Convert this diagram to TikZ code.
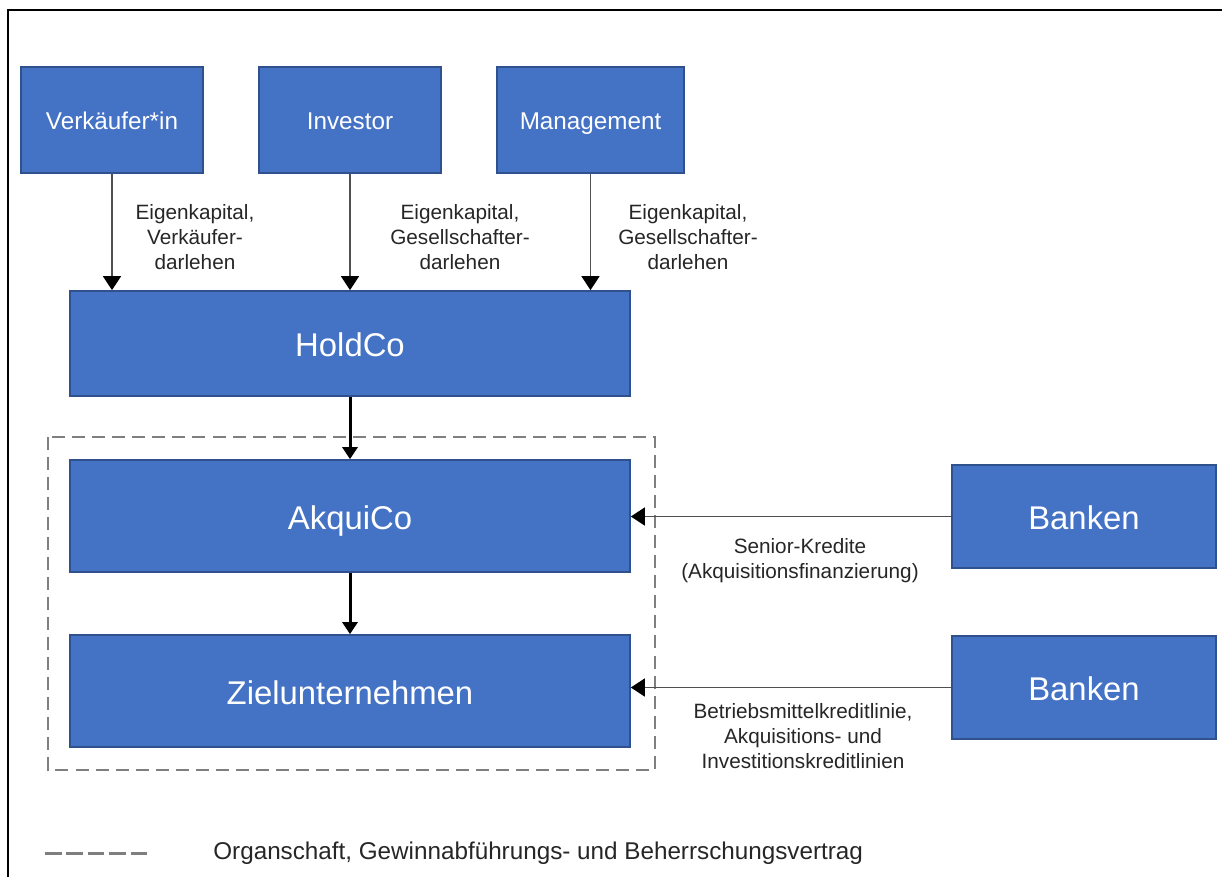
\documentclass[tikz,border=0pt]{standalone}
\usepackage{fontspec}
\setmainfont{Liberation Sans}
\usetikzlibrary{arrows.meta}

\definecolor{boxblue}{HTML}{4472C4}
\definecolor{boxline}{HTML}{2F528F}
\definecolor{labeltext}{HTML}{262626}
\definecolor{flowgray}{HTML}{505050}
\definecolor{dashgray}{HTML}{7F7F7F}

\begin{document}
\begin{tikzpicture}[x=0.02cm,y=-0.02cm,
    box/.style={draw=boxline,line width=1pt,fill=boxblue,text=white,inner sep=0pt,align=center,text depth=0pt},
    party/.style={box,minimum height=2.12cm,text height=11pt,font=\fontsize{13.8}{16}\selectfont},
    entity/.style={box,minimum width=11.2cm,text height=15.1pt,font=\fontsize{18.7}{22}\selectfont},
    bank/.style={box,minimum width=5.28cm,minimum height=2.06cm,text height=15.1pt,font=\fontsize{18.7}{22}\selectfont},
    flowlabel/.style={text=labeltext,align=center,inner sep=0pt,font=\fontsize{11.8}{14.2}\selectfont},
    flow/.style={draw=flowgray,line width=0.85pt,-{Triangle[length=0.28cm,width=0.36cm,color=black]}},
    chain/.style={draw=black,line width=1.7pt,-{Triangle[length=0.24cm,width=0.30cm]}},
    organ/.style={draw=dashgray,line width=1.1pt,dash pattern=on 7.4pt off 4pt}]

% Frame and fixed page size.
\useasboundingbox (0,0) rectangle (1222,877);
\draw[line width=1.6pt] (8,877) -- (8,10) -- (1222,10);

% Holding structure.
\node[entity,minimum height=2.10cm] (holdco) at (350,343.5) {HoldCo};
\node[entity,minimum height=2.24cm] (akquico) at (350,516) {AkquiCo};
\node[entity,minimum height=2.24cm] (ziel) at (350,691) {Zielunternehmen};

% Shareholders with their contributions.
\foreach \n/\x/\w/\t/\lx/\l in {
    verk/112/3.64/Verkäufer*in/195/{Eigenkapital,\\Verkäufer-\\darlehen},
    inv/350/3.64/Investor/460/{Eigenkapital,\\Gesellschafter-\\darlehen},
    mgmt/590.5/3.74/Management/688/{Eigenkapital,\\Gesellschafter-\\darlehen}} {

    % Draw each shareholder box.
    \node[party,minimum width=\w cm] (\n) at (\x,120) {\t};

    % Label of the flow.
    \node[flowlabel] (\n label) at (\lx,237) {\l};

    % Arrow down to HoldCo.
    \draw[flow] (\n.south) -- (\n.south |- holdco.north);
}

% Chain of ownership.
\draw[chain] (holdco.south) -- (akquico.north);
\draw[chain] (akquico.south) -- (ziel.north);

% Organschaft frame.
\draw[organ] (48,437) rectangle (655,770);

% Banks and credit lines.
\node[bank] (bank1) at (1084,516.5) {Banken};
\node[bank] (bank2) at (1084,687.5) {Banken};
\draw[flow] (bank1.west) -- (bank1.west -| akquico.east);
\draw[flow] (bank2.west) -- (bank2.west -| ziel.east);
\node[flowlabel] (senior) at (800,561) {Senior-Kredite\\(Akquisitionsfinanzierung)};
\node[flowlabel] (bmkl) at (803,736) {Betriebsmittelkreditlinie,\\Akquisitions- und\\Investitionskreditlinien};

% Legend.
\coordinate (legA) at (45,853);
\coordinate (legB) at (147,853);
\draw[draw=dashgray,line width=1.7pt,dash pattern=on 9.4pt off 2.8pt] (legA) -- (legB);
\node[anchor=west,inner sep=0pt,text=labeltext,font=\fontsize{13.8}{16}\selectfont] (legtext) at (213,853)
    {Organschaft, Gewinnabführungs- und Beherrschungsvertrag};
\end{tikzpicture}
\end{document}
